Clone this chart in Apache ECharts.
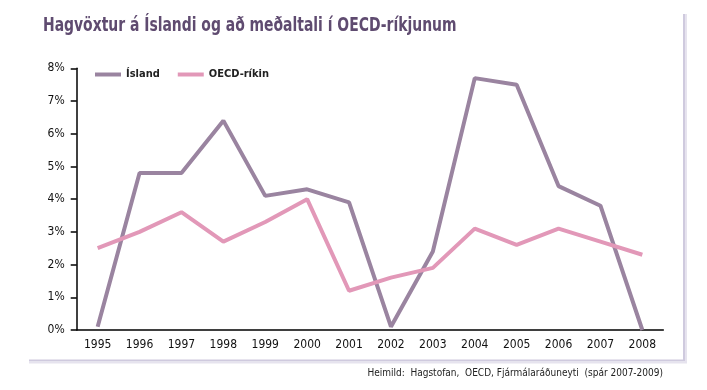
<!DOCTYPE html>
<html><head><meta charset="utf-8">
<script src="https://cdn.jsdelivr.net/npm/echarts@6/dist/echarts.min.js"></script>
<style>html,body{margin:0;padding:0;background:#fff}#c{width:707px;height:390px}</style>
</head><body><div id="c"></div>
<script>
var years = ['1995','1996','1997','1998','1999','2000','2001','2002','2003','2004','2005','2006','2007','2008'];
var island = [0.1,4.8,4.8,6.4,4.1,4.3,3.9,0.1,2.4,7.7,7.5,4.4,3.8,0.0];
var oecd = [2.5,3.0,3.6,2.7,3.3,4.0,1.2,1.6,1.9,3.1,2.6,3.1,2.7,2.3];
var FONT = '"DejaVu Sans Condensed","Liberation Sans Narrow",sans-serif';
var chart = echarts.init(document.getElementById('c'));
chart.setOption({
  animation:false,
  backgroundColor:'#ffffff',
  legend:{left:90,top:64,itemWidth:26,itemHeight:4,itemGap:18,icon:'rect',
    textStyle:{fontFamily:FONT,fontWeight:'bold',fontSize:11,color:'#222'},
    data:['Ísland','OECD-ríkin']},
  grid:{left:76.7,right:43.7,top:68.3,bottom:60},
  xAxis:{type:'category',data:years,boundaryGap:true,
    axisLine:{lineStyle:{color:'#000',width:1.5}},
    axisTick:{length:7,lineStyle:{color:'#000',width:1.5},alignWithLabel:false},
    axisLabel:{fontFamily:FONT,fontSize:12,color:'#111',margin:9}},
  yAxis:{type:'value',min:0,max:8,interval:1,
    axisLine:{show:true,lineStyle:{color:'#000',width:1.5}},
    axisTick:{show:true,length:6,lineStyle:{color:'#000',width:1.5}},
    splitLine:{show:false},
    axisLabel:{fontFamily:FONT,fontSize:12,color:'#111',margin:12,formatter:'{value}%'}},
  series:[
    {name:'Ísland',type:'line',data:island,symbol:'none',lineStyle:{width:4,color:'#9a84a0'},itemStyle:{color:'#9a84a0'}},
    {name:'OECD-ríkin',type:'line',data:oecd,symbol:'none',lineStyle:{width:4,color:'#e298b8'},itemStyle:{color:'#e298b8'}}
  ],
  graphic:[
    {type:'text',x:43,y:17,scaleX:0.815,style:{text:'Hagvöxtur á Íslandi og að meðaltali í OECD-ríkjunum',
      fontFamily:FONT,fontWeight:'bold',fontSize:19,fill:'#5f4b70'}},
    {type:'rect',shape:{x:683,y:14,width:2,height:347},style:{fill:'#cfcade'},silent:true},
    {type:'rect',shape:{x:685,y:14,width:2,height:349},style:{fill:'#e6e3ee'},silent:true},
    {type:'rect',shape:{x:29,y:359.5,width:656,height:2},style:{fill:'#cfcade'},silent:true},
    {type:'rect',shape:{x:29,y:361.5,width:658,height:2},style:{fill:'#e6e3ee'},silent:true},
    {type:'text',right:44,top:368,style:{text:'Heimild:  Hagstofan,  OECD, Fjármálaráðuneyti  (spár 2007-2009)',
      fontFamily:FONT,fontSize:10,fill:'#222'}}
  ]
});
</script></body></html>
